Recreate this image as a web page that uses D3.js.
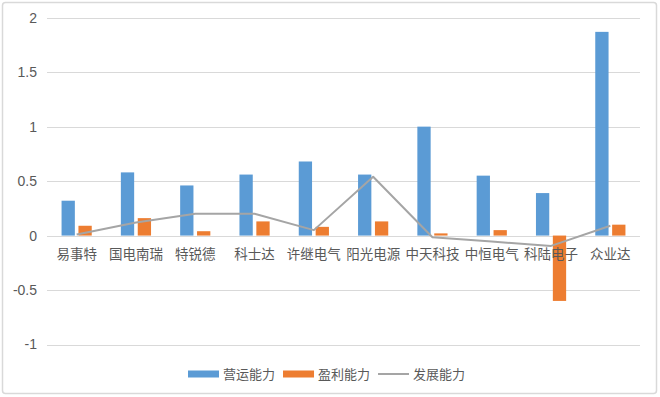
<!DOCTYPE html>
<html><head><meta charset="utf-8">
<script src="https://cdn.jsdelivr.net/npm/d3@7"></script>
<style>
html,body{margin:0;padding:0;background:#fff;}
svg{display:block;}
</style>
</head><body>
<svg id="c" width="660" height="397"></svg>
<script>
const categories = ["易事特","国电南瑞","特锐德","科士达","许继电气","阳光电源","中天科技","中恒电气","科陆电子","众业达"];
const operating = [0.32,0.58,0.46,0.56,0.68,0.56,1.00,0.55,0.39,1.87];
const profit = [0.09,0.16,0.04,0.13,0.08,0.13,0.02,0.05,-0.60,0.10];
const growth = [0.01,0.12,0.20,0.20,0.05,0.54,-0.015,-0.055,-0.095,0.09];
const yTicks = [-1,-0.5,0,0.5,1,1.5,2];
const seriesNames = ["营运能力","盈利能力","发展能力"];
const colors = ["#5b9bd5","#ed7d31","#a5a5a5"];

const svg = d3.select("#c");
const cjk = "'Noto Sans CJK SC', sans-serif";
const txtColor = "#595959";

svg.append("rect").attr("x",2.5).attr("y",2.5).attr("width",654).attr("height",391)
  .attr("fill","#fff").attr("stroke","#d9d9d9").attr("stroke-width",1.5).attr("rx",3);

const x = d3.scaleBand().domain(categories).range([47,640]).padding(0);
const y = d3.scaleLinear().domain([-1,2]).range([344.5,17.7]);

// gridlines
svg.append("g").selectAll("line").data(yTicks).join("line")
  .attr("x1",47).attr("x2",640)
  .attr("y1",d=>Math.round(y(d))+0.5).attr("y2",d=>Math.round(y(d))+0.5)
  .attr("stroke","#d9d9d9").attr("stroke-width",1);

// y labels
const yAxis = d3.axisLeft(y).tickValues(yTicks).tickSize(0).tickPadding(0).tickFormat(d=>String(d));
const ga = svg.append("g").attr("transform","translate(37,0)").call(yAxis);
ga.select(".domain").remove();
ga.selectAll("text").attr("fill",txtColor).attr("font-family","'Liberation Sans', Arial, sans-serif").attr("font-size",14);

const bw = x.bandwidth();
const w = bw/4.46;
const gap = 0.27*w;

// bars
const g = svg.append("g");
g.selectAll(".b1").data(categories).join("rect")
  .attr("x",(d,i)=>x(d)+bw/2-gap/2-w).attr("width",w)
  .attr("y",(d,i)=>y(Math.max(0,operating[i]))).attr("height",(d,i)=>Math.abs(y(operating[i])-y(0)))
  .attr("fill",colors[0]);
g.selectAll(".b2").data(categories).join("rect")
  .attr("x",(d,i)=>x(d)+bw/2+gap/2).attr("width",w)
  .attr("y",(d,i)=>y(Math.max(0,profit[i]))).attr("height",(d,i)=>Math.abs(y(profit[i])-y(0)))
  .attr("fill",colors[1]);

// category labels
svg.append("g").selectAll("text").data(categories).join("text")
  .attr("x",d=>x(d)+bw/2).attr("y",259)
  .attr("text-anchor","middle").attr("fill",txtColor)
  .attr("font-family",cjk).attr("font-size",13.5).text(d=>d);

// line
const line = d3.line().x((d,i)=>x(categories[i])+bw/2).y(d=>y(d));
svg.append("path").datum(growth).attr("d",line)
  .attr("fill","none").attr("stroke",colors[2]).attr("stroke-width",2).attr("stroke-linejoin","round");

// legend
const lg = svg.append("g");
let cx = 0;
const items = [];
seriesNames.forEach((n,i)=>{
  const it = lg.append("g");
  if(i<2){
    it.append("rect").attr("x",0).attr("y",-3.5).attr("width",31).attr("height",7).attr("fill",colors[i]);
  } else {
    it.append("line").attr("x1",0).attr("x2",31).attr("y1",0).attr("y2",0).attr("stroke",colors[i]).attr("stroke-width",2);
  }
  const t = it.append("text").attr("x",35).attr("y",4.5).attr("fill",txtColor)
    .attr("font-family",cjk).attr("font-size",13).text(n);
  const tw = t.node().getComputedTextLength();
  it.attr("transform",`translate(${cx},0)`);
  cx += 35 + tw + 8;
});
const total = cx - 8;
lg.attr("transform",`translate(${188},374)`);
</script>
</body></html>
